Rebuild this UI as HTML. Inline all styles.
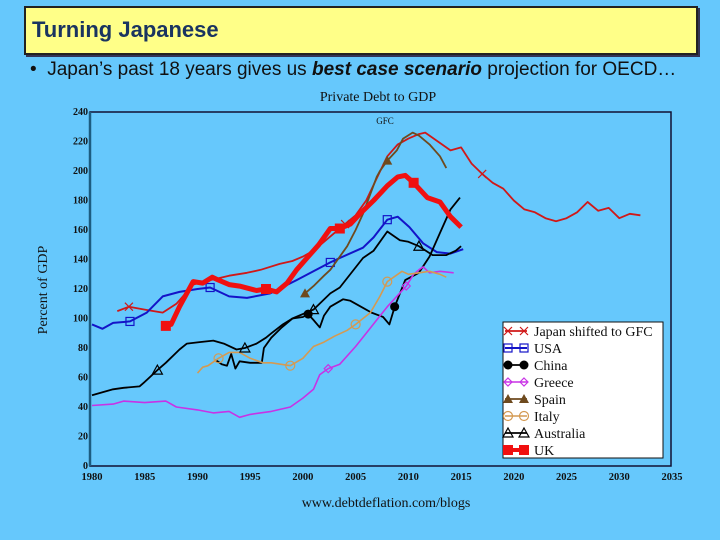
<!DOCTYPE html>
<html><head><meta charset="utf-8"><style>
body{margin:0;width:720px;height:540px;background:#66c8fc;overflow:hidden;position:relative;font-family:"Liberation Sans",sans-serif}
#title{position:absolute;left:24px;top:6px;width:670px;height:45px;background:#ffff88;border:2px solid #222;box-shadow:2px 2px 0 #335}
#title span{position:absolute;left:6px;top:9px;font-size:22px;font-weight:bold;color:#1a3460}
#bullet{position:absolute;left:30px;top:59px;font-size:19px;color:#111;white-space:nowrap}
svg{position:absolute;left:0;top:0}
</style></head><body>
<div id="title"><span>Turning Japanese</span></div>
<div id="bullet">•&nbsp; Japan’s past 18 years gives us <b><i>best case scenario</i></b> projection for OECD…</div>
<svg id="chart" width="720" height="540" font-family="Liberation Serif, serif"></svg>
<script>
const yTicks=[0,20,40,60,80,100,120,140,160,180,200,220,240];
const xTicks=[1980,1985,1990,1995,2000,2005,2010,2015,2020,2025,2030,2035];
const jpYears=[1982.4,1983.5,1985,1986.7,1988,1989.6,1990.5,1991.8,1993,1994.7,1996,1997.8,1999,2000,2001,2002,2003,2004,2005,2006,2007,2008,2009,2010,2011,2011.6,2012,2013,2014,2015,2016,2017,2018,2019,2020,2021,2022,2023,2024,2025,2026,2027,2028,2029,2030,2031,2032];
const jpVals=[105,108,106,104,110,123,125,127,129,131,133,137,139,142,146,152,158,164,170,180,195,210,218,222,225,226,224,219,214,216,205,198,192,188,180,174,172,168,166,168,172,179,173,175,168,171,170];
const usYears=[1980,1981,1982,1983.6,1985.2,1986.7,1988.3,1990,1991.2,1993,1994.7,1996.9,1999.4,2002.6,2003.5,2005.7,2006.7,2008,2009,2010.1,2011.4,2012.7,2014,2015.2];
const usVals=[96,93,97,98,104,115,118,120,121,115,114,117,126,138,141,148,155,167,169,162,151,145,144,147];
const ukYears=[1987,1987.5,1988.3,1989.6,1990.5,1991.4,1992,1993,1994,1995.6,1996.5,1997.5,1998.5,1999.4,2000.5,2001.5,2002.6,2003.5,2004.5,2005.4,2006.7,2008,2009,2009.7,2010.5,2011.8,2013,2014,2015];
const ukVals=[95,96,108,125,124,128,126,123,122,119,120,118,124,133,142,150,161,161,164,171,180,190,196,197,192,182,179,169,162];
const esYears=[2000.2,2001,2002,2002.6,2003.5,2004.2,2005,2005.7,2007,2007.3,2008,2008.9,2009.5,2010.4,2011,2012,2013,2013.6];
const esVals=[117,122,129,133,142,149,160,171,196,200,207,214,222,226,224,218,210,202];
const auYears=[1980,1981,1982,1983,1984.5,1985,1986.2,1987,1988.3,1989,1990.2,1991.5,1992.5,1993.7,1994.5,1995.6,1996.5,1997,1998.1,1999,2001,2002.6,2003.5,2005.7,2006.7,2008,2009.2,2010,2011,2012.3,2013.6,2014.5,2015];
const auVals=[48,50,52,53,54,57,65,70,79,83,84,85,83,79,80,83,87,90,96,100,106,117,121,141,146,159,153,152,149,143,143,146,149];
const cnYears=[1991.7,1992.3,1992.8,1993.2,1993.6,1994,1995,1996.1,1996.3,1997,1998,1999,2000,2000.5,2001,2001.6,2002,2002.6,2003.8,2004.5,2005.5,2006.5,2007.6,2008.2,2008.7,2009.7,2011,2012,2013,2014,2014.9];
const cnVals=[72,69,68,76,66,71,70,70,80,87,94,100,101,103,99,94,102,108,113,112,108,104,101,96,108,126,131,142,158,174,182];
const itYears=[1990,1990.5,1991,1992,1993,1994,1995,1996.2,1997,1998.8,2000,2001,2002,2003,2004.2,2005,2006.4,2007.3,2008,2009.4,2010,2011,2012,2013,2013.6];
const itVals=[63,67,68,73,77,77,73,70,70,68,73,81,84,88,92,96,104,115,125,132,130,131,132,130,128];
const grYears=[1980,1982,1983,1985,1987,1988,1990,1991.5,1993,1994,1995,1997,1998.8,2000,2001,2001.6,2002.4,2003.5,2005,2006,2007,2008,2009.8,2010.5,2011,2011.4,2012,2013,2014.3];
const grVals=[41,42,44,43,44,40,38,36,37,33,35,37,40,46,52,62,66,69,81,90,99,108,122,130,133,135,131,132,131];
const legendLabels=["Japan shifted to GFC","USA","China","Greece","Spain","Italy","Australia","UK"];

const svg=document.getElementById('chart');
const NS='http://www.w3.org/2000/svg';
const X0=92,X1=672,Y0=466,Y1=112;
const xs=y=>X0+(y-1980)*(X1-X0)/55;
const ys=v=>Y0-v*(Y0-Y1)/240;
function mk(t,a,p){const e=document.createElementNS(NS,t);for(const k in a)e.setAttribute(k,a[k]);(p||svg).appendChild(e);return e;}
function txt(s,a){const e=mk('text',a);e.textContent=s;return e;}

const frame=mk('rect',{x:90,y:Y1,width:581,height:Y0-Y1,fill:'none',stroke:'#113',"stroke-width":1.5});


const axL=mk('line',{x1:90,y1:Y1,x2:90,y2:Y0,stroke:'#1c5c80',"stroke-width":2.5});


yTicks.forEach(v=>{const t=txt(v,{x:88,y:ys(v)+3,"font-size":10,"font-weight":"bold","text-anchor":"end",fill:'#111'});

});
xTicks.forEach(v=>{const t=txt(v,{x:xs(v),y:480,"font-size":10.5,"font-weight":"bold","text-anchor":"middle",fill:'#111'});

});
const ct=txt('Private Debt to GDP',{x:378,y:101,"font-size":14,"text-anchor":"middle",fill:'#111'});


const gfc=txt('GFC',{x:385,y:124,"font-size":9,"text-anchor":"middle",fill:'#111'});


const yl=txt('Percent of GDP',{x:0,y:0,"font-size":14,"text-anchor":"middle",fill:'#111',transform:'translate(47,290) rotate(-90)'});


const src=txt('www.debtdeflation.com/blogs',{x:386,y:507,"font-size":14,"text-anchor":"middle",fill:'#111'});



function marker(kind,x,y,c){
  const s=4;
  if(kind==='x'){mk('path',{d:`M${x-s} ${y-s}L${x+s} ${y+s}M${x-s} ${y+s}L${x+s} ${y-s}`,stroke:c,"stroke-width":1.2,fill:'none'});}
  else if(kind==='sq')mk('rect',{x:x-4,y:y-4,width:8,height:8,fill:'none',stroke:c,"stroke-width":1.2});
  else if(kind==='dot')mk('circle',{cx:x,cy:y,r:4.5,fill:c});
  else if(kind==='dia')mk('path',{d:`M${x} ${y-4}L${x+4} ${y}L${x} ${y+4}L${x-4} ${y}Z`,fill:'none',stroke:c,"stroke-width":1.2});
  else if(kind==='tri')mk('path',{d:`M${x} ${y-5}L${x+5} ${y+4}L${x-5} ${y+4}Z`,fill:c});
  else if(kind==='circ')mk('circle',{cx:x,cy:y,r:4.5,fill:'none',stroke:c,"stroke-width":1.2});
  else if(kind==='otri')mk('path',{d:`M${x} ${y-5}L${x+5} ${y+4}L${x-5} ${y+4}Z`,fill:'none',stroke:c,"stroke-width":1.2});
  else if(kind==='bsq')mk('rect',{x:x-5,y:y-5,width:10,height:10,fill:c});
}
const series=[
 {n:'japan',Y:jpYears,V:jpVals,c:'#d01818',w:1.8,m:'x',mi:[1,17,31]},
 {n:'usa',Y:usYears,V:usVals,c:'#1414c8',w:2,m:'sq',mi:[3,8,13,17]},
 {n:'china',Y:cnYears,V:cnVals,c:'#000',w:1.8,m:'dot',mi:[13,24]},
 {n:'greece',Y:grYears,V:grVals,c:'#c832e6',w:1.6,m:'dia',mi:[16,22]},
 {n:'spain',Y:esYears,V:esVals,c:'#6e4a1e',w:1.8,m:'tri',mi:[0,10]},
 {n:'italy',Y:itYears,V:itVals,c:'#d49a52',w:1.6,m:'circ',mi:[3,9,15,18]},
 {n:'australia',Y:auYears,V:auVals,c:'#000',w:1.8,m:'otri',mi:[6,14,20,28]},
 {n:'uk',Y:ukYears,V:ukVals,c:'#f01010',w:5,m:'bsq',mi:[0,10,17,24]}
];
series.forEach(s=>{
  const g=mk('g',{});
  
  
  let d='';s.Y.forEach((y,i)=>{d+=(i?'L':'M')+xs(y).toFixed(1)+' '+ys(s.V[i]).toFixed(1);});
  mk('path',{d,fill:'none',stroke:s.c,"stroke-width":s.w,"stroke-linejoin":"round"},g);
  s.mi.forEach(i=>{if(i<s.Y.length)marker(s.m,xs(s.Y[i]),ys(s.V[i]),s.c);});
});
const lg=mk('g',{});


mk('rect',{x:503,y:322,width:160,height:136,fill:'#fff',stroke:'#111',"stroke-width":1},lg);
legendLabels.forEach((l,i)=>{
  const y=331+i*17,s=series[i];
  mk('line',{x1:505,y1:y,x2:527,y2:y,stroke:s.c,"stroke-width":Math.min(s.w,4)},lg);
  marker(s.m,508,y,s.c);marker(s.m,524,y,s.c);
  const t=txt(l,{x:534,y:y+5,"font-size":14,fill:'#111'});
  
  
});
</script>
</body></html>
